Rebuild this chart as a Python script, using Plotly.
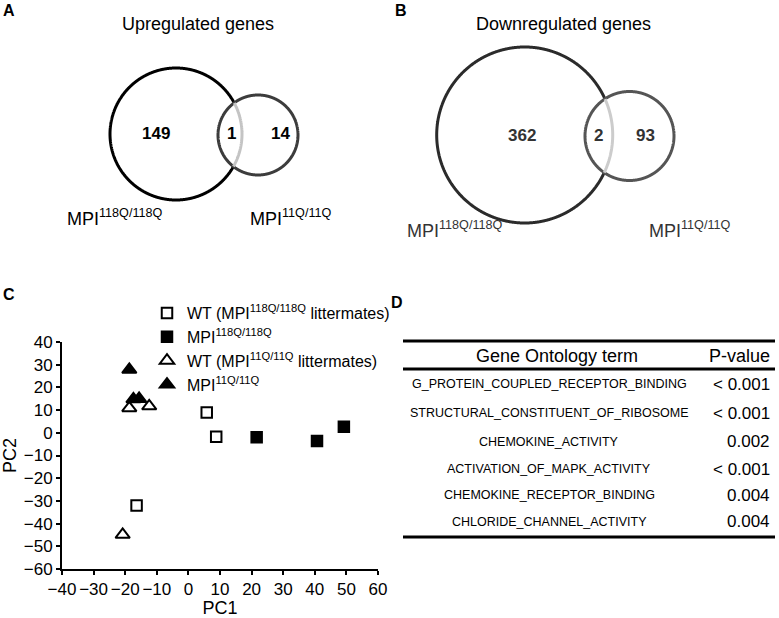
import numpy as np
import plotly.graph_objects as go

W, H = 779, 618
FONT = "Liberation Sans, Arial, sans-serif"

# ---------------- Panel A / B : Venn data ----------------
up_title = "Upregulated genes"
up_counts = [149, 1, 14]          # only 118Q/118Q, shared, only 11Q/11Q
down_title = "Downregulated genes"
down_counts = [362, 2, 93]
set_labels = ["MPI<sup>118Q/118Q</sup>", "MPI<sup>11Q/11Q</sup>"]

# ---------------- Panel C : PCA data ----------------
series_names = [
    "WT (MPI<sup>118Q/118Q</sup> littermates)",
    "MPI<sup>118Q/118Q</sup>",
    "WT (MPI<sup>11Q/11Q</sup> littermates)",
    "MPI<sup>11Q/11Q</sup>",
]
wt118_pc1 = [5.8, 8.8, -16.4]
wt118_pc2 = [8.9, -1.7, -32.0]
mpi118_pc1 = [21.6, 40.7, 49.2]
mpi118_pc2 = [-2.0, -3.6, 2.7]
wt11_pc1 = [-18.7, -12.4, -20.8]
wt11_pc2 = [10.9, 11.7, -44.9]
mpi11_pc1 = [-18.7, -17.4, -15.6]
mpi11_pc2 = [27.8, 14.8, 15.0]
x_ticks = list(range(-40, 61, 10))
y_ticks = list(range(-60, 41, 10))

# ---------------- Panel D : table data ----------------
table_header = ["Gene Ontology term", "P-value"]
go_terms = [
    "G_PROTEIN_COUPLED_RECEPTOR_BINDING",
    "STRUCTURAL_CONSTITUENT_OF_RIBOSOME",
    "CHEMOKINE_ACTIVITY",
    "ACTIVATION_OF_MAPK_ACTIVITY",
    "CHEMOKINE_RECEPTOR_BINDING",
    "CHLORIDE_CHANNEL_ACTIVITY",
]
p_values = ["< 0.001", "< 0.001", "0.002", "< 0.001", "0.004", "0.004"]


# ---------------- helpers (pixel -> paper) ----------------
def px(x):
    return x / W


def py(y):
    return 1 - y / H


annotations = []
shapes = []


def text(t, x, y, size, bold=False, color="black", xanchor="center", yanchor="middle"):
    if bold:
        t = "<b>" + t + "</b>"
    annotations.append(dict(
        text=t, x=px(x), y=py(y), xref="paper", yref="paper",
        xanchor=xanchor, yanchor=yanchor, showarrow=False,
        font=dict(family=FONT, size=size, color=color),
    ))


def arc_path(cx, cy, r, keep):
    """Polyline of the circle (cx, cy, r) restricted to the mask function keep."""
    th = np.linspace(-np.pi, np.pi, 1441)
    xs = cx + r * np.cos(th)
    ys = cy + r * np.sin(th)
    m = keep(xs, ys)
    if m.all():
        idx = np.arange(len(th))
    else:
        start = np.argmax(~m)
        idx = np.roll(np.arange(len(th)), -start)
        idx = idx[m[idx]]
    pts = [f"{px(xs[i]):.5f},{py(ys[i]):.5f}" for i in idx]
    return "M" + " L".join(pts)


def venn(counts, title, big, small, big_col, small_col, arc_col, num_pos,
         title_pos, label_pos, label_col, letter, letter_pos):
    text(letter, *letter_pos, 16, bold=True)
    text(title, *title_pos, 18)
    cx1, cy1, r1 = big
    cx2, cy2, r2 = small
    inside2 = lambda x, y: (x - cx2) ** 2 + (y - cy2) ** 2 < r2 ** 2
    outside2 = lambda x, y: ~inside2(x, y)
    shapes.append(dict(type="path", xref="paper", yref="paper",
                       path=arc_path(cx1, cy1, r1, outside2),
                       line=dict(color=big_col, width=3)))
    shapes.append(dict(type="path", xref="paper", yref="paper",
                       path=arc_path(cx2, cy2, r2, lambda x, y: np.ones_like(x, bool)) + " Z",
                       line=dict(color=small_col, width=3)))
    shapes.append(dict(type="path", xref="paper", yref="paper",
                       path=arc_path(cx1, cy1, r1, inside2),
                       line=dict(color=arc_col, width=3)))
    for c, (x, y) in zip(counts, num_pos):
        text(str(c), x, y, 17, bold=True, color=label_col)
    for lab, (x, y) in zip(set_labels, label_pos):
        text(lab, x, y, 18, color=label_col, xanchor="left")


# Panel A
venn(up_counts, up_title,
     big=(176, 134, 66), small=(258, 135, 40),
     big_col="black", small_col="#3c3c3c", arc_col="#c4c4c4",
     num_pos=[(156, 133), (231, 133), (280, 133)],
     title_pos=(198, 24), label_pos=[(65, 217), (248, 217)],
     label_col="black", letter="A", letter_pos=(9, 11))

# Panel B
venn(down_counts, down_title,
     big=(524.7, 135, 88), small=(629.5, 136, 44.5),
     big_col="#2b2b2b", small_col="#555555", arc_col="#cccccc",
     num_pos=[(522, 135), (598, 135), (645, 135)],
     title_pos=(563, 24), label_pos=[(405, 229), (647, 229)],
     label_col="#333333", letter="B", letter_pos=(401, 11))

# Panel C letter
text("C", 9, 295, 16, bold=True)

# Panel D table
text("D", 397, 302, 16, bold=True)
TL, TR = 403, 775
for yy in (341, 369, 537):
    shapes.append(dict(type="line", xref="paper", yref="paper",
                       x0=px(TL), x1=px(TR), y0=py(yy), y1=py(yy),
                       line=dict(color="black", width=3)))
text(table_header[0], 557, 356, 18)
text(table_header[1], 772, 356, 18, xanchor="right")
row_y = [384.3, 413.3, 441.7, 469, 495, 521.7]
for term, pv, yy in zip(go_terms, p_values, row_y):
    text(term, 549, yy, 12.5)
    text(pv, 772, yy, 17, xanchor="right")

# ---------------- scatter ----------------
fig = go.Figure()
styles = [
    dict(symbol="square", color="white"),
    dict(symbol="square", color="black"),
    dict(symbol="triangle-up", color="white"),
    dict(symbol="triangle-up", color="black"),
]
data = [(wt118_pc1, wt118_pc2), (mpi118_pc1, mpi118_pc2),
        (wt11_pc1, wt11_pc2), (mpi11_pc1, mpi11_pc2)]
sizes = [10.5, 10.5, 12.5, 12.5]
for name, (xs, ys), st, sz in zip(series_names, data, styles, sizes):
    fig.add_trace(go.Scatter(
        x=xs, y=ys, mode="markers", name=name,
        marker=dict(symbol=st["symbol"], color=st["color"], size=sz,
                    line=dict(color="black", width=2)),
    ))

axis_common = dict(
    showgrid=False, zeroline=False, showline=True, linecolor="black",
    linewidth=2, ticks="outside", ticklen=4, tickwidth=1.5, tickcolor="black",
    tickfont=dict(family=FONT, size=17, color="black"), tickangle=0,
    automargin=False,
)
fig.update_layout(
    width=W, height=H,
    margin=dict(l=0, r=0, t=0, b=0, autoexpand=False),
    paper_bgcolor="white", plot_bgcolor="white",
    font=dict(family=FONT, color="black"),
    xaxis=dict(domain=[px(62), px(378)], range=[-40, 60], tickvals=x_ticks,
               title=dict(text="PC1", font=dict(family=FONT, size=18), standoff=0),
               **axis_common),
    yaxis=dict(domain=[py(569), py(342)], range=[-60, 40], tickvals=y_ticks,
               title=dict(text="PC2", font=dict(family=FONT, size=18), standoff=10),
               **axis_common),
    showlegend=True,
    legend=dict(x=px(147), y=py(296), xanchor="left", yanchor="top",
                bgcolor="rgba(0,0,0,0)", font=dict(family=FONT, size=16),
                itemwidth=30, tracegroupgap=0),
    annotations=annotations,
    shapes=shapes,
)

# remove the browser's default 8px page margin so the figure fills the window
fig.write_html("out.html",
               config={"displayModeBar": False},
               post_script="document.body.style.margin='0';")
